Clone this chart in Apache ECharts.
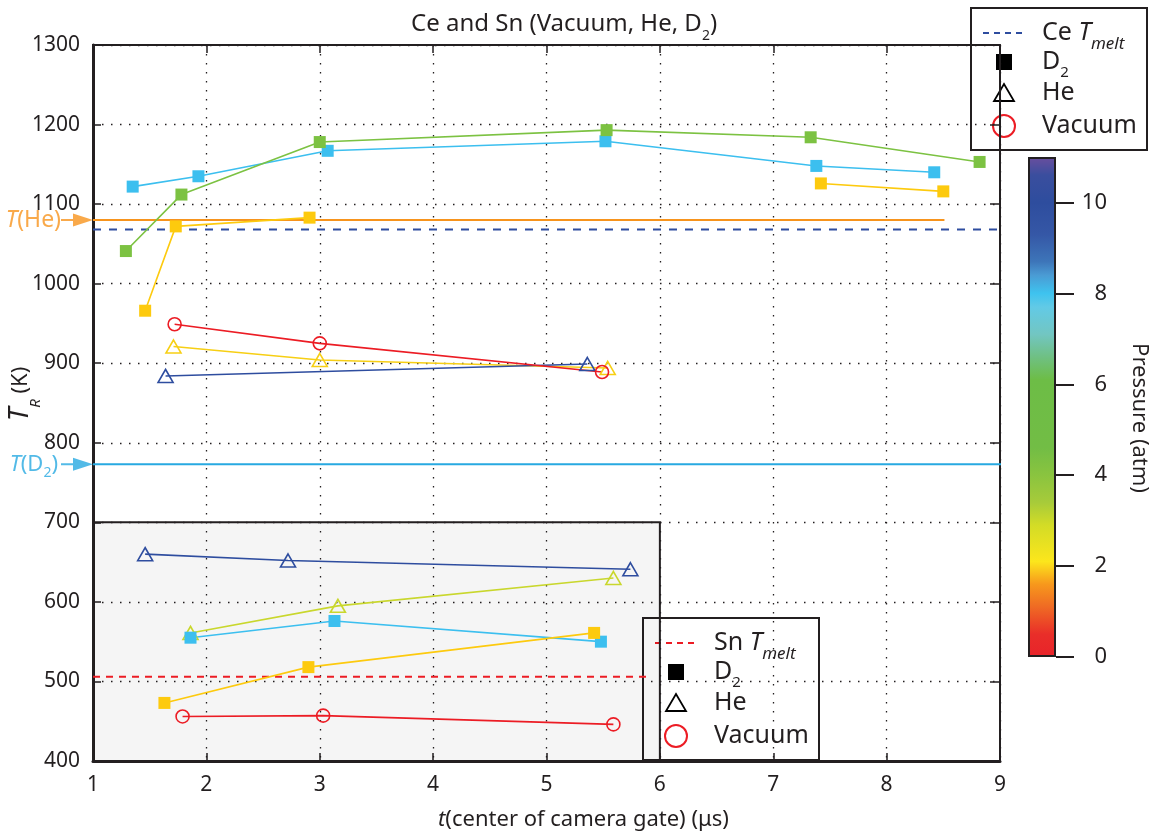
<!DOCTYPE html>
<html>
<head>
<meta charset="utf-8">
<title>Ce and Sn (Vacuum, He, D2)</title>
<script src="https://cdn.jsdelivr.net/npm/echarts@6.0.0/dist/echarts.min.js"></script>
<style>
  html, body { margin: 0; padding: 0; background: #fff; }
  #chart { width: 1156px; height: 835px; }
</style>
</head>
<body>
<div id="chart"></div>
<script>
// axis ticks
const tTicks = [1, 2, 3, 4, 5, 6, 7, 8, 9]
const kTicks = [400, 500, 600, 700, 800, 900, 1000, 1100, 1200, 1300]
const pTicks = [0, 2, 4, 6, 8, 10]
const pRange = [0, 11]

// Ce (upper part) - gate centre time (us) / radiance temperature (K)
const ceD2HighT = [1.35, 1.93, 3.07, 5.52, 7.38, 8.42]
const ceD2HighK = [1122, 1135, 1167, 1179, 1148, 1140]
const ceD2MidT = [1.29, 1.78, 3.00, 5.53, 7.33, 8.82]
const ceD2MidK = [1041, 1112, 1178, 1193, 1184, 1153]
const ceD2LowEarlyT = [1.46, 1.73, 2.91]
const ceD2LowEarlyK = [966, 1072, 1083]
const ceD2LowLateT = [7.42, 8.50]
const ceD2LowLateK = [1126, 1116]
const ceHeLowT = [1.71, 3.00, 5.54]
const ceHeLowK = [921, 904, 894]
const ceHeHighT = [1.64, 5.36]
const ceHeHighK = [884, 899]
const ceVacT = [1.72, 3.00, 5.49]
const ceVacK = [949, 925, 889]

// Sn (shaded part)
const snHeHighT = [1.46, 2.72, 5.74]
const snHeHighK = [660, 652, 641]
const snHeMidT = [1.86, 3.16, 5.59]
const snHeMidK = [561, 595, 630]
const snD2HighT = [1.86, 3.13, 5.48]
const snD2HighK = [555, 576, 550]
const snD2LowT = [1.63, 2.90, 5.42]
const snD2LowK = [473, 518, 561]
const snVacT = [1.79, 3.03, 5.59]
const snVacK = [456, 457, 446]

// reference temperatures (K) and how far they run along t
const ceTmelt = 1068
const snTmelt = 506
const tHe = 1080
const tD2 = 773
const ceTmeltSpan = [1, 9]
const snTmeltSpan = [1, 5.9]
const heSpan = [1, 8.51]
const d2Span = [1, 9.1]
const snBoxT = [1, 6]
const snBoxK = [400, 700]

// pressure colour map (atm -> colour)
const pressureStops = [
  [0, '#e8232a'], [0.5, '#e92e29'], [1.1, '#ef6a24'], [1.6, '#f7981c'],
  [2.1, '#fce61c'], [2.9, '#d3dc26'], [3.4, '#a7cb3a'], [4.0, '#8ac43f'],
  [4.6, '#72bd45'], [6.1, '#6dbd46'], [6.6, '#6fc083'], [7.1, '#72c6c2'],
  [7.7, '#62cae6'], [8.0, '#3ec3ef'], [8.4, '#4a9bd4'], [8.7, '#3d75b9'],
  [9.3, '#3557a6'], [10.0, '#2e4d9e'], [10.6, '#3a4e9e'], [11, '#6a4e9e']
]

const FONT = 'Noto Sans'
const ink = '#231f20'
const cCyan = '#3cbfef'
const cGreen = '#7cc242'
const cYellow = '#fdca0e'
const cYellowTri = '#f7cf14'
const cLime = '#c9d72d'
const cNavy = '#2e4d9f'
const cRed = '#ec1c24'
const cOrange = '#f7941d'
const cSky = '#27a9e1'

function pairs(xs, ys) {
  return xs.map((x, i) => [x, ys[i]])
}

function trace(name, xs, ys, color, marker) {
  const s = {
    name: name,
    type: 'line',
    data: pairs(xs, ys),
    z: 3,
    silent: true,
    lineStyle: { color: color, width: 1.6 },
    symbol: marker,
    symbolSize: 12,
    itemStyle: { color: color }
  }
  if (marker === 'triangle') {
    s.symbolSize = [15, 13]
    s.itemStyle = { color: 'rgba(0,0,0,0)', borderColor: color, borderWidth: 1.6 }
  }
  if (marker === 'circle') {
    s.symbolSize = 13
    s.itemStyle = { color: 'rgba(0,0,0,0)', borderColor: color, borderWidth: 1.6 }
  }
  return s
}

function refLine(name, span, k, color, dash) {
  return {
    name: name,
    type: 'line',
    data: span.map(t => [t, k]),
    symbol: 'none',
    clip: false,
    silent: true,
    z: 2,
    lineStyle: { color: color, width: 2, type: dash || 'solid' }
  }
}

function tagRich(color, size, subPad) {
  return {
    i: { fontSize: size, fontStyle: 'italic', color: color, fontFamily: FONT },
    n: { fontSize: size, color: color, fontFamily: FONT },
    s: { fontSize: 14, color: color, fontFamily: FONT, padding: [subPad, 0, 0, 0] }
  }
}

const keyRich = {
  n: { fontSize: 25, fill: ink, fontFamily: FONT },
  i: { fontSize: 25, fill: ink, fontFamily: FONT, fontStyle: 'italic' },
  s: { fontSize: 17, fill: ink, fontFamily: FONT, fontStyle: 'italic', padding: [23, 0, 0, 0] },
  d: { fontSize: 15, fill: ink, fontFamily: FONT, padding: [21, 0, 0, 0] }
}

// legend box: melt line, D2 / He / Vacuum markers
function keyBox(x, y, dashColor, dash, metal) {
  const txt = (ty, text) => ({
    type: 'text', x: 71, y: ty,
    style: { text: text, fill: ink, fontFamily: FONT, fontSize: 25, align: 'left', verticalAlign: 'middle', rich: keyRich }
  })
  return {
    type: 'group', x: x, y: y, z: 100,
    children: [
      { type: 'rect', shape: { x: 0, y: 0, width: 176, height: 142 }, style: { fill: '#fff', stroke: ink, lineWidth: 2 } },
      { type: 'line', shape: { x1: 12, y1: 25, x2: 55, y2: 25 }, style: { stroke: dashColor, lineWidth: 2, lineDash: dash } },
      txt(25, '{n|' + metal + ' }{i|T}{s|melt}'),
      { type: 'rect', shape: { x: 25, y: 46, width: 16, height: 16 }, style: { fill: '#000' } },
      txt(54, '{n|D}{d|2}'),
      { type: 'polygon', shape: { points: [[23, 93], [43, 93], [33, 76]] }, style: { fill: 'none', stroke: '#000', lineWidth: 1.8 } },
      txt(85, '{n|He}'),
      { type: 'circle', shape: { cx: 33, cy: 118, r: 11 }, style: { fill: 'none', stroke: cRed, lineWidth: 2 } },
      txt(118, '{n|Vacuum}')
    ]
  }
}

const arrowPath = 'path://M0,5.5L12,5.5L12,0L32,6.5L12,13L12,7.5L0,7.5Z'

const chart = echarts.init(document.getElementById('chart'))

chart.setOption({
  animation: false,
  backgroundColor: '#fff',
  textStyle: { fontFamily: FONT },
  title: {
    left: 406,
    top: 0,
    text: '{n|Ce and Sn (Vacuum, He, D}{s|2}{n|)}',
    textStyle: {
      fontWeight: 'normal',
      rich: {
        n: { fontSize: 24, fontWeight: 'normal', color: ink, fontFamily: FONT },
        s: { fontSize: 14, fontWeight: 'normal', color: ink, fontFamily: FONT, padding: [24, 0, 0, 0] }
      }
    }
  },
  grid: [
    { left: 93, right: 156, top: 45, bottom: 74, containLabel: false, outerBoundsMode: 'none', show: true, borderColor: ink, borderWidth: 2 },
    { left: 1028, width: 28, top: 157, height: 500, containLabel: false, outerBoundsMode: 'none' }
  ],
  xAxis: [
    {
      type: 'value',
      gridIndex: 0,
      min: tTicks[0],
      max: tTicks[tTicks.length - 1],
      interval: 1,
      name: '{i|t}{n|(center of camera gate) (μs)}',
      nameLocation: 'middle',
      nameGap: 48,
      nameMoveOverlap: false,
      nameTextStyle: {
        padding: [0, 0, 0, 74],
        rich: {
          i: { fontSize: 22, fontStyle: 'italic', color: ink, fontFamily: FONT },
          n: { fontSize: 22, color: ink, fontFamily: FONT }
        }
      },
      axisLine: { onZero: false, lineStyle: { color: ink, width: 3 } },
      axisTick: { inside: true, length: 8, lineStyle: { color: ink, width: 1.5 } },
      axisLabel: { fontSize: 21, color: ink, margin: 14 },
      splitLine: { show: true, lineStyle: { color: ink, width: 1.3, type: [1.5, 7.5] } }
    },
    {
      type: 'value',
      gridIndex: 0,
      position: 'top',
      min: tTicks[0],
      max: tTicks[tTicks.length - 1],
      interval: 1,
      axisLine: { onZero: false, lineStyle: { color: ink, width: 2 } },
      axisTick: { inside: true, length: 8, lineStyle: { color: ink, width: 1.5 } },
      axisLabel: { show: false },
      splitLine: { show: false }
    },
    { type: 'category', gridIndex: 1, data: ['p'], show: false }
  ],
  yAxis: [
    {
      type: 'value',
      gridIndex: 0,
      min: kTicks[0],
      max: kTicks[kTicks.length - 1],
      interval: 100,
      name: '{i|T}{s|R}{n| (K)}',
      nameLocation: 'middle',
      nameRotate: 90,
      nameGap: 50,
      nameMoveOverlap: false,
      nameTextStyle: {
        padding: [0, 0, 0, 18],
        rich: {
          i: { fontSize: 27, fontStyle: 'italic', color: ink, fontFamily: FONT },
          s: { fontSize: 15, fontStyle: 'italic', color: ink, fontFamily: FONT, padding: [30, 0, 0, 0] },
          n: { fontSize: 22, color: ink, fontFamily: FONT }
        }
      },
      axisLine: { onZero: false, lineStyle: { color: ink, width: 3 } },
      axisTick: { inside: true, length: 8, lineStyle: { color: ink, width: 1.5 } },
      axisLabel: { fontSize: 21, color: ink, margin: 13, formatter: v => String(v) },
      splitLine: { show: true, lineStyle: { color: ink, width: 1.3, type: [1.5, 7.5] } }
    },
    {
      type: 'value',
      gridIndex: 0,
      position: 'right',
      min: kTicks[0],
      max: kTicks[kTicks.length - 1],
      interval: 100,
      axisLine: { onZero: false, lineStyle: { color: ink, width: 2 } },
      axisTick: { inside: true, length: 10, lineStyle: { color: ink, width: 1.5 } },
      axisLabel: { show: false },
      splitLine: { show: false }
    },
    {
      type: 'value',
      gridIndex: 1,
      position: 'right',
      min: pRange[0],
      max: pRange[1],
      name: 'Pressure (atm)',
      nameLocation: 'middle',
      nameRotate: -90,
      nameGap: 72,
      nameMoveOverlap: false,
      nameTextStyle: { fontSize: 22, color: ink, padding: [0, 0, 0, 22] },
      axisLine: { show: false },
      axisTick: { show: true, inside: false, length: 18, customValues: pTicks, lineStyle: { color: ink, width: 2 } },
      axisLabel: { customValues: pTicks, fontSize: 22, color: ink, align: 'right', margin: 51 },
      splitLine: { show: false }
    }
  ],
  graphic: [
    keyBox(971, 8, cNavy, [6, 5], 'Ce'),
    keyBox(643, 618, cRed, [6, 5], 'Sn')
  ],
  series: [
    refLine('Ce Tmelt', ceTmeltSpan, ceTmelt, cNavy, [8, 8]),
    Object.assign(refLine('Sn Tmelt', snTmeltSpan, snTmelt, cRed, [7, 6]), {
      markArea: {
        silent: true,
        itemStyle: { color: 'rgba(0,0,0,0.04)', borderColor: ink, borderWidth: 2 },
        data: [[{ coord: [snBoxT[0], snBoxK[0]] }, { coord: [snBoxT[1], snBoxK[1]] }]]
      }
    }),
    refLine('T(He)', heSpan, tHe, cOrange),
    refLine('T(D2)', d2Span, tD2, cSky),

    trace('Ce D2 8 atm', ceD2HighT, ceD2HighK, cCyan, 'rect'),
    trace('Ce D2 5 atm', ceD2MidT, ceD2MidK, cGreen, 'rect'),
    trace('Ce D2 2 atm', ceD2LowEarlyT, ceD2LowEarlyK, cYellow, 'rect'),
    trace('Ce D2 2 atm late', ceD2LowLateT, ceD2LowLateK, cYellow, 'rect'),
    trace('Ce He 2 atm', ceHeLowT, ceHeLowK, cYellowTri, 'triangle'),
    trace('Ce He 10 atm', ceHeHighT, ceHeHighK, cNavy, 'triangle'),
    trace('Ce vacuum', ceVacT, ceVacK, cRed, 'circle'),

    trace('Sn He 10 atm', snHeHighT, snHeHighK, cNavy, 'triangle'),
    trace('Sn He 3 atm', snHeMidT, snHeMidK, cLime, 'triangle'),
    trace('Sn D2 8 atm', snD2HighT, snD2HighK, cCyan, 'rect'),
    trace('Sn D2 2 atm', snD2LowT, snD2LowK, cYellow, 'rect'),
    trace('Sn vacuum', snVacT, snVacK, cRed, 'circle'),

    // gas temperature arrows left of the axis
    {
      type: 'scatter',
      clip: false,
      silent: true,
      z: 4,
      symbol: arrowPath,
      symbolSize: [32, 13],
      symbolOffset: [-16, 0],
      data: [
        {
          value: [tTicks[0], tHe],
          itemStyle: { color: cOrange },
          label: { show: true, position: 'left', distance: 0, formatter: '{i|T}{n|(He)}', rich: tagRich(cOrange, 23, 0) }
        },
        {
          value: [tTicks[0], tD2],
          itemStyle: { color: cSky },
          label: { show: true, position: 'left', distance: 3, formatter: '{i|T}{n|(D}{s|2}{n|)}', rich: tagRich(cSky, 22, 18) }
        }
      ]
    },

    // colour bar
    {
      type: 'bar',
      xAxisIndex: 2,
      yAxisIndex: 2,
      data: [pRange[1]],
      barWidth: '100%',
      silent: true,
      itemStyle: {
        borderColor: ink,
        borderWidth: 2,
        color: {
          type: 'linear', x: 0, y: 1, x2: 0, y2: 0,
          colorStops: pressureStops.map(s => ({ offset: s[0] / pRange[1], color: s[1] }))
        }
      }
    }
  ]
})
</script>
</body>
</html>
